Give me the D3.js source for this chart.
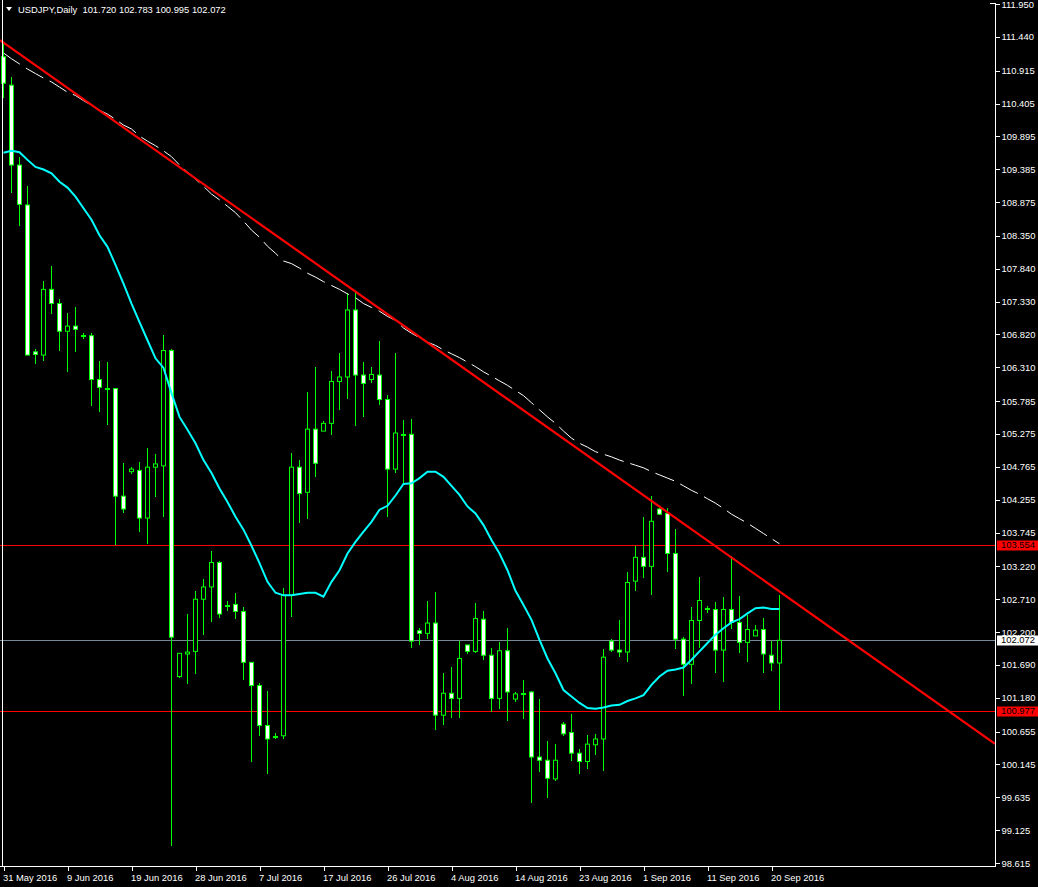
<!DOCTYPE html>
<html><head><meta charset="utf-8">
<script src="https://cdn.jsdelivr.net/npm/d3@7"></script>
<style>
body{margin:0;background:#000;}
svg{display:block;}
text{font-family:"Liberation Sans",Arial,sans-serif;}
</style>
</head><body>
<svg id="chart" width="1038" height="887"></svg>
<script>
// ---------- data ----------
const symbolTitle = "USDJPY,Daily";
const lastOHLC = ["101.720", "102.783", "100.995", "102.072"];

const openP = [111.13,110.69,109.45,108.83,106.55,106.50,107.52,107.30,106.87,106.95,
  106.81,106.80,106.12,105.99,105.98,104.31,104.69,104.71,103.97,104.76,
  104.78,106.57,101.51,101.86,101.90,102.71,102.90,103.28,102.62,102.63,
  102.52,101.73,101.37,100.75,100.59,100.59,102.77,104.76,104.37,105.35,
  105.32,105.44,106.09,106.16,107.20,106.19,106.12,106.19,105.81,104.73,
  105.28,105.27,102.22,102.18,102.34,100.91,101.25,101.17,102.00,101.90,
  102.40,101.84,101.17,101.91,101.16,101.26,101.27,100.26,100.21,99.92,
  100.77,100.64,100.32,100.19,100.45,100.54,102.06,101.92,101.89,102.99,
  103.36,103.22,104.11,104.04,103.42,102.09,101.70,102.38,102.57,102.55,
  101.92,102.55,102.35,102.04,102.14,102.24,101.84,101.720];
const highP = [111.36,110.82,109.57,109.13,106.59,107.65,107.89,107.37,107.16,107.25,
  106.84,106.84,106.41,106.39,105.99,104.83,104.77,104.84,105.06,104.96,
  106.81,106.60,101.88,102.48,102.84,103.02,103.46,103.30,102.68,102.80,
  102.59,101.73,101.41,101.29,100.64,102.88,104.98,104.87,105.93,106.31,
  105.47,106.26,106.53,107.46,107.48,106.39,106.31,106.72,105.88,106.53,
  105.49,105.50,102.27,102.68,102.82,101.56,101.65,102.06,102.00,102.65,
  102.53,101.95,102.04,102.26,101.27,101.46,101.29,101.16,100.51,100.46,
  100.80,100.93,100.38,100.60,100.62,101.94,102.09,102.39,103.13,103.54,
  103.99,104.31,104.12,104.12,103.80,102.12,102.59,103.06,102.61,102.67,
  102.75,103.38,102.76,102.47,102.31,102.42,102.06,102.783];
const lowP = [110.49,109.02,108.51,106.50,106.36,106.41,107.13,106.57,106.24,106.54,
  106.75,105.71,105.61,105.42,103.554,104.05,104.66,103.76,103.57,104.30,
  103.99,98.88,101.49,101.40,101.55,102.16,102.35,102.42,102.52,102.41,
  101.45,100.19,100.59,99.99,100.54,100.54,102.44,103.90,103.96,104.61,
  105.32,105.26,105.64,105.82,105.40,105.54,106.07,105.73,103.98,104.67,
  104.51,101.96,102.00,102.10,100.68,100.75,100.86,100.86,101.86,101.87,
  101.77,100.96,101.01,100.82,101.12,100.85,99.54,100.03,99.63,99.89,
  100.58,100.20,100.00,100.08,100.29,100.05,101.89,101.82,101.74,102.84,
  103.04,102.78,104.02,103.14,101.93,101.20,101.40,101.96,102.50,101.56,
  101.42,102.25,101.88,101.73,102.14,101.57,101.59,100.995];
const closeP = [110.72,109.45,108.84,106.50,106.51,107.52,107.30,106.87,106.95,106.90,
  106.81,106.12,106.00,105.99,104.31,104.11,104.73,103.97,104.76,104.81,
  106.57,102.12,101.87,101.89,102.71,102.90,103.28,102.48,102.62,102.52,
  101.73,101.37,100.75,100.54,100.59,102.77,104.76,104.35,105.35,104.82,
  105.44,106.09,106.16,107.20,106.19,106.06,106.20,105.81,104.73,105.29,
  105.28,102.06,102.18,102.34,100.91,101.25,101.17,101.79,101.90,102.41,
  101.84,101.17,101.91,101.27,101.24,101.26,100.26,100.21,99.93,100.21,
  100.62,100.32,100.19,100.46,100.54,101.81,101.92,101.89,102.97,103.36,
  103.22,103.92,104.03,103.42,102.09,101.70,102.38,102.69,102.57,101.92,
  102.55,102.35,102.04,102.24,102.23,101.86,101.72,102.072];

// cyan moving average
const maCyan = [109.64,109.67,109.65,109.53,109.42,109.38,109.32,109.19,109.10,108.96,
  108.78,108.60,108.36,108.18,107.90,107.61,107.30,107.01,106.73,106.45,
  106.30,105.91,105.54,105.34,105.13,104.87,104.67,104.43,104.22,103.99,
  103.79,103.54,103.27,102.98,102.81,102.77,102.77,102.79,102.81,102.81,
  102.75,102.98,103.16,103.42,103.60,103.76,103.91,104.10,104.16,104.32,
  104.50,104.51,104.59,104.69,104.69,104.61,104.47,104.33,104.15,104.04,
  103.86,103.63,103.42,103.16,102.84,102.62,102.39,102.08,101.79,101.56,
  101.30,101.20,101.10,101.02,101.01,101.03,101.06,101.07,101.13,101.17,
  101.22,101.38,101.51,101.60,101.62,101.65,101.77,101.90,102.03,102.16,
  102.26,102.35,102.40,102.49,102.57,102.58,102.56,102.56];

// dashed long moving average
const maDashed = [111.19,111.10,111.02,110.94,110.87,110.80,110.74,110.66,110.58,110.53,
  110.45,110.38,110.30,110.24,110.16,110.07,110.01,109.90,109.82,109.75,
  109.67,109.58,109.45,109.34,109.23,109.12,109.00,108.91,108.81,108.71,
  108.58,108.44,108.33,108.19,108.08,107.96,107.92,107.85,107.77,107.71,
  107.64,107.58,107.52,107.45,107.39,107.30,107.24,107.18,107.10,107.04,
  106.92,106.84,106.77,106.70,106.65,106.58,106.52,106.46,106.39,106.32,
  106.24,106.17,106.10,106.03,105.95,105.87,105.76,105.65,105.54,105.44,
  105.32,105.21,105.13,105.07,105.00,104.96,104.92,104.87,104.83,104.79,
  104.75,104.69,104.64,104.59,104.54,104.47,104.40,104.34,104.27,104.20,
  104.12,104.03,103.96,103.89,103.81,103.73,103.65,103.57];

const dateTickIndex = [0,8,16,24,32,40,48,56,64,72,80,88,96];
const dateTickLabels = ["31 May 2016","9 Jun 2016","19 Jun 2016","28 Jun 2016","7 Jul 2016",
  "17 Jul 2016","26 Jul 2016","4 Aug 2016","14 Aug 2016","23 Aug 2016","1 Sep 2016",
  "11 Sep 2016","20 Sep 2016"];

const priceTicks = [111.950,111.440,110.915,110.405,109.895,109.385,108.875,108.350,
  107.840,107.330,106.820,106.310,105.785,105.275,104.765,104.255,103.745,103.220,
  102.710,102.200,101.690,101.180,100.655,100.145,99.635,99.125,98.615];

const redLevels = [103.554, 100.977];
const bidPrice = 102.072;
const trendIdx = [0, 97];
const trendPrice = [111.35, 102.83];

// ---------- layout ----------
const svg = d3.select("#chart");
const plotRight = 995, plotBottom = 866;
svg.append("rect").attr("width",1038).attr("height",887).attr("fill","#000");

const x = d3.scaleLinear().domain([0, 97]).range([3.5, 779.5]);
const y = d3.scaleLinear().domain([98.615, 111.95]).range([863, 4]);

svg.append("defs").append("clipPath").attr("id","plot")
  .append("rect").attr("x",0).attr("y",0).attr("width",plotRight).attr("height",plotBottom);

const plot = svg.append("g").attr("clip-path","url(#plot)");

// horizontal level lines
plot.selectAll("line.lvl").data(redLevels).join("line")
  .attr("x1",0).attr("x2",plotRight)
  .attr("y1",d=>Math.round(y(d))+0.5).attr("y2",d=>Math.round(y(d))+0.5)
  .attr("stroke","#ff0000").attr("stroke-width",1).attr("shape-rendering","crispEdges");
plot.append("line")
  .attr("x1",0).attr("x2",plotRight)
  .attr("y1",Math.round(y(bidPrice))+0.5).attr("y2",Math.round(y(bidPrice))+0.5)
  .attr("stroke","#778899").attr("stroke-width",1).attr("shape-rendering","crispEdges");

// candles
const idx = d3.range(openP.length);
const green = "#00ff00";
plot.selectAll("line.wick").data(idx).join("line")
  .attr("x1",i=>x(i)).attr("x2",i=>x(i))
  .attr("y1",i=>y(highP[i])).attr("y2",i=>y(lowP[i]))
  .attr("stroke",green).attr("stroke-width",1).attr("shape-rendering","crispEdges");

idx.forEach(i=>{
  const o=openP[i], c=closeP[i];
  const top=y(Math.max(o,c)), bot=y(Math.min(o,c));
  if (Math.abs(o-c) < 0.005) {
    plot.append("line").attr("x1",x(i)-2.5).attr("x2",x(i)+2.5)
      .attr("y1",Math.round(top)+0.5).attr("y2",Math.round(top)+0.5)
      .attr("stroke",green).attr("stroke-width",2).attr("shape-rendering","crispEdges");
  } else {
    plot.append("rect").attr("x",x(i)-2).attr("width",4)
      .attr("y",top).attr("height",Math.max(1,bot-top))
      .attr("fill", c<o ? "#ffffff" : "#000000")
      .attr("stroke",green).attr("stroke-width",1);
  }
});

// dashed long MA
plot.append("path").datum(idx)
  .attr("d", d3.line().x(i=>x(i)).y(i=>y(maDashed[i])))
  .attr("fill","none").attr("stroke","#ffffff").attr("stroke-width",1)
  .attr("stroke-dasharray","20,7");

// cyan MA
plot.append("path").datum(idx)
  .attr("d", d3.line().x(i=>x(i)).y(i=>y(maCyan[i])))
  .attr("fill","none").attr("stroke","#00ffff").attr("stroke-width",2);

// red trend line (ray)
const slope = (trendPrice[1]-trendPrice[0])/(trendIdx[1]-trendIdx[0]);
const iL = x.invert(0), iR = x.invert(plotRight);
plot.append("line")
  .attr("x1",x(iL)).attr("y1",y(trendPrice[0]+slope*(iL-trendIdx[0])))
  .attr("x2",x(iR)).attr("y2",y(trendPrice[0]+slope*(iR-trendIdx[0])))
  .attr("stroke","#ff0000").attr("stroke-width",2.2);

// frame lines
svg.append("line").attr("x1",2.5).attr("x2",2.5).attr("y1",0).attr("y2",plotBottom)
  .attr("stroke","#fff").attr("stroke-width",1).attr("shape-rendering","crispEdges");
svg.append("line").attr("x1",0).attr("x2",plotRight+1).attr("y1",plotBottom+0.5).attr("y2",plotBottom+0.5)
  .attr("stroke","#fff").attr("stroke-width",1).attr("shape-rendering","crispEdges");
svg.append("line").attr("x1",plotRight+0.5).attr("x2",plotRight+0.5).attr("y1",3).attr("y2",plotBottom+1)
  .attr("stroke","#fff").attr("stroke-width",1).attr("shape-rendering","crispEdges");
svg.append("line").attr("x1",990).attr("x2",plotRight+1).attr("y1",3.5).attr("y2",3.5)
  .attr("stroke","#fff").attr("stroke-width",1).attr("shape-rendering","crispEdges");

// right price axis
const yAxis = d3.axisRight(y).tickValues(priceTicks).tickFormat(d3.format(".3f"))
  .tickSize(4).tickSizeOuter(0).tickPadding(2);
const gy = svg.append("g").attr("transform",`translate(${plotRight+0.5},0)`).call(yAxis);
gy.select(".domain").remove();
gy.selectAll("line").attr("stroke","#fff").attr("shape-rendering","crispEdges");
gy.selectAll("text").attr("fill","#fff").attr("font-size","9.4px")
  .attr("font-family","'Liberation Sans',Arial,sans-serif");

// bottom date axis
const xAxis = d3.axisBottom(x).tickValues(dateTickIndex)
  .tickFormat((d,k)=>dateTickLabels[k]).tickSize(4).tickSizeOuter(0).tickPadding(4);
const gx = svg.append("g").attr("transform",`translate(0,${plotBottom+0.5})`).call(xAxis);
gx.select(".domain").remove();
gx.selectAll("line").attr("stroke","#fff").attr("shape-rendering","crispEdges");
gx.selectAll("text").attr("fill","#fff").attr("font-size","9.4px").attr("text-anchor","start")
  .attr("dx","-1px").attr("font-family","'Liberation Sans',Arial,sans-serif");

// price labels on the axis
function priceBox(p, bg, fg) {
  const yy = Math.round(y(p));
  svg.append("rect").attr("x",997).attr("y",yy-4.5).attr("width",41).attr("height",10).attr("fill",bg);
  svg.append("text").attr("x",1001).attr("y",yy).attr("dy","0.34em")
    .attr("fill",fg).attr("font-size","9.4px").text(d3.format(".3f")(p));
}
redLevels.forEach(p=>priceBox(p,"#ff0000","#000000"));
priceBox(bidPrice,"#ffffff","#000000");

// header
svg.append("path").attr("d","M6,7 L12,7 L9,11 Z").attr("fill","#fff");
svg.append("text").attr("x",18).attr("y",13).attr("fill","#fff").attr("font-size","9.4px")
  .attr("xml:space","preserve")
  .text(symbolTitle + "  " + lastOHLC.join(" "));
</script>
</body></html>
